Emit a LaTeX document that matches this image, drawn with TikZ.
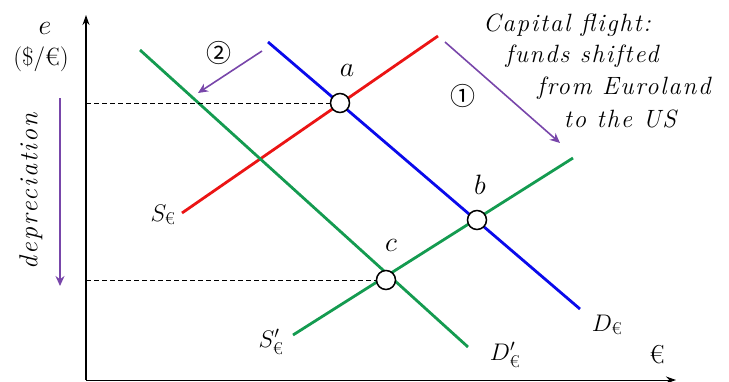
\RequirePackage{fix-cm}
\documentclass[tikz,border=0pt]{standalone}
\usepackage{amsmath}
\usepackage{fontspec}
\newfontfamily\cjkfont{Noto Sans CJK JP}
\newfontfamily\spacedfont[LetterSpace=7]{Latin Modern Roman}
\newfontfamily\widefont[LetterSpace=8]{Latin Modern Roman}
\usetikzlibrary{arrows.meta}
\definecolor{myred}{RGB}{235,20,20}
\definecolor{myblue}{RGB}{10,10,235}
\definecolor{mygreen}{RGB}{20,155,80}
\definecolor{mypurple}{RGB}{120,70,170}
\newcommand{\eur}{\text{\fontsize{17}{17}\selectfont €}}
\begin{document}
\begin{tikzpicture}[x=1pt,y=-1pt,
  curve/.style={line width=2.8pt},
  eqpt/.style={circle,draw=black,fill=white,line width=1.5pt,minimum size=19pt,inner sep=0pt},
  movearrow/.style={mypurple,line width=1.6pt,-{Stealth[length=10pt,width=9pt]}},
  guide/.style={line width=0.9pt,dash pattern=on 5pt off 3pt},
  ptlbl/.style={font=\fontsize{28}{32}\selectfont},
  crvlbl/.style={font=\fontsize{24}{28}\selectfont},
  note/.style={font=\spacedfont\itshape\fontsize{25}{28}\selectfont},
  depnote/.style={font=\widefont\itshape\fontsize{26}{28}\selectfont},
  numlbl/.style={font=\cjkfont\fontsize{25}{27}\selectfont},
  axisline/.style={line width=1.4pt,-{Stealth[length=10pt,width=7pt]}}]
\useasboundingbox (0,0) rectangle (729,381);
% axes
\coordinate (O) at (86,380);
\coordinate (ytop) at (86,15);
\coordinate (xend) at (676,380);
\draw[axisline] (O) -- (ytop);
\draw[line width=1pt,-{Stealth[length=10pt,width=7pt]}] (O) -- (xend);
% curves
\coordinate (S1) at (182,213); \coordinate (S2) at (438,36);
\coordinate (D1) at (268,42);  \coordinate (D2) at (580,309);
\coordinate (Sp1) at (293,335); \coordinate (Sp2) at (573,158);
\coordinate (Dp1) at (140,50); \coordinate (Dp2) at (468,347);
\draw[curve,myred] (S1) -- (S2);
\draw[curve,myblue] (D1) -- (D2);
\draw[curve,mygreen] (Sp1) -- (Sp2);
\draw[curve,mygreen] (Dp1) -- (Dp2);
% equilibrium points and dashed guides
\coordinate (ya) at (86,103);
\coordinate (yc) at (86,280);
\node[eqpt] (a) at (340,103) {};
\node[eqpt] (b) at (477,220) {};
\node[eqpt] (c) at (386,280) {};
\draw[guide] (ya) -- (a.west);
\draw[guide] (yc) -- (c.west);
% point labels
\node[ptlbl] (la) at (347,70) {$a$};
\node[ptlbl] (lb) at (480,185) {$b$};
\node[ptlbl] (lc) at (391,245) {$c$};
\node[crvlbl] (lS) at (163,215) {$S_{\eur}$};
\node[crvlbl] (lSp) at (271,342) {$S'_{\eur}$};
\node[crvlbl] (lD) at (607,325) {$D_{\eur}$};
\node[crvlbl] (lDp) at (505,355) {$D'_{\eur}$};
\node[font=\fontsize{26}{28}\selectfont] (lE) at (657,355) {€};
% axis label
\node[ptlbl] (le) at (45,28) {$e$};
\node[font=\fontsize{25}{28}\selectfont] (lunit) at (41,59) {(\$/€)};
% depreciation
\node[depnote,rotate=90] (dep) at (31,191) {depreciation};
\coordinate (dtop) at (60,98);
\coordinate (dbot) at (60,286);
\draw[movearrow] (dtop) -- (dbot);
% shift arrows
\coordinate (a2s) at (262,51); \coordinate (a2e) at (198,93);
\draw[movearrow] (a2s) -- (a2e);
\node[numlbl] (n2) at (219,53) {②};
\coordinate (a1s) at (445,42); \coordinate (a1e) at (560,143);
\draw[movearrow] (a1s) -- (a1e);
\node[numlbl] (n1) at (463,96) {①};
% capital flight text
\node[note] (t1) at (567,25) {Capital flight:};
\node[note] (t2) at (582,56) {funds shifted};
\node[note] (t3) at (624,88) {from Euroland};
\node[note] (t4) at (620,119) {to the US};
\end{tikzpicture}
\end{document}
